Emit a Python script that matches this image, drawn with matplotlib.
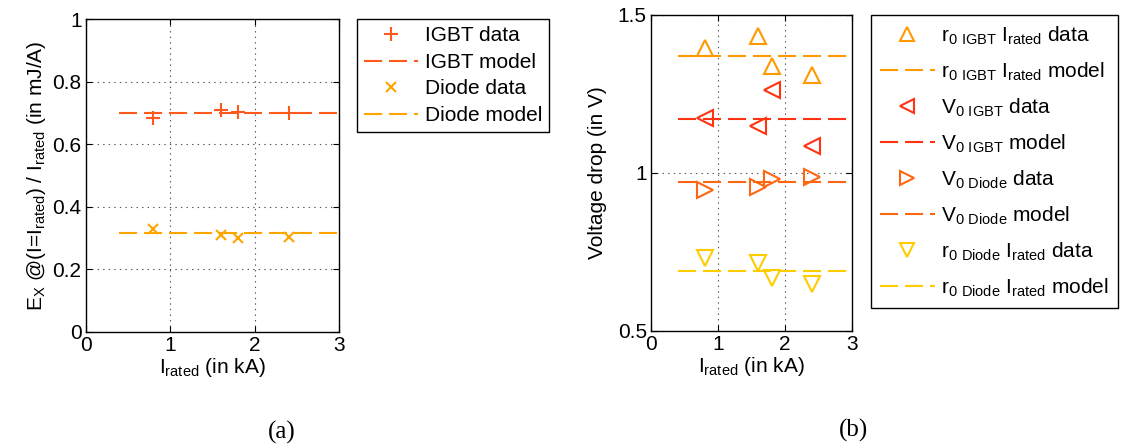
import numpy as np
import matplotlib
matplotlib.use("Agg")
import matplotlib.pyplot as plt

plt.rcParams['font.family'] = ['Liberation Sans', 'DejaVu Sans']
plt.rcParams['mathtext.default'] = 'regular'
plt.rcParams['lines.scale_dashes'] = False

# ratings (kA) of the measured modules
i_rated = [0.8, 1.6, 1.8, 2.4]
model_x = [0.4, 3.0]

# switching energy per rated current (mJ/A)
igbt_data = [0.682, 0.709, 0.704, 0.700]
igbt_model = 0.700
diode_data = [0.329, 0.309, 0.299, 0.304]
diode_model = 0.316

# voltage drop components (V)
r0_igbt_data = [1.397, 1.433, 1.340, 1.310]
r0_igbt_model = 1.370
v0_igbt_data = [1.173, 1.148, 1.262, 1.086]
v0_igbt_model = 1.170
v0_diode_data = [0.946, 0.956, 0.980, 0.988]
v0_diode_model = 0.970
r0_diode_data = [0.729, 0.715, 0.666, 0.647]
r0_diode_model = 0.690

C_IGBT = '#ff5a1e'
C_DIODE = '#ffa500'
C_R0I = '#ff9900'
C_V0I = '#ff3311'
C_V0D = '#ff6611'
C_R0D = '#ffcc00'

DASH = (13, 5)
FS = 15

fig = plt.figure(figsize=(11.23, 4.45), dpi=100)


def style_axes(ax):
    ax.tick_params(direction='in', top=True, right=True, labelsize=FS,
                   length=4, width=0.8, pad=3)
    ax.grid(True, linestyle=(0, (1, 3)), color='#555555', linewidth=0.8)
    for s in ax.spines.values():
        s.set_linewidth(1.0)


# (a) switching energy
ax1 = fig.add_axes([0.0763, 0.2546, 0.2258, 0.7027])
ax1.plot(i_rated, igbt_data, '+', color=C_IGBT, ms=10, mew=1.5, ls='none',
         label='IGBT data')
ax1.plot(model_x, [igbt_model] * 2, color=C_IGBT, lw=1.5, dashes=DASH,
         label='IGBT model')
ax1.plot(i_rated, diode_data, 'x', color=C_DIODE, ms=7, mew=1.5, ls='none',
         label='Diode data')
ax1.plot(model_x, [diode_model] * 2, color=C_DIODE, lw=1.5, dashes=DASH,
         label='Diode model')
ax1.set_xlim(0, 3)
ax1.set_ylim(0, 1)
ax1.set_xticks([0, 1, 2, 3])
ax1.set_yticks([0, 0.2, 0.4, 0.6, 0.8, 1])
ax1.set_yticklabels(['0', '0.2', '0.4', '0.6', '0.8', '1'])
ax1.set_xlabel('I$_{rated}$ (in kA)', fontsize=FS, labelpad=1)
ax1.set_ylabel('E$_{X}$ @(I=I$_{rated}$) / I$_{rated}$ (in mJ/A)',
               fontsize=FS, labelpad=3)
style_axes(ax1)
fig.legend(handles=ax1.get_lines(), loc='upper left',
           bbox_to_anchor=(357 / 1123, 1 - 19 / 445), fontsize=FS,
           frameon=True, fancybox=False, edgecolor='black', framealpha=1,
           handlelength=2.6, handletextpad=0.3, labelspacing=0.36,
           borderpad=0.35, borderaxespad=0)

# (b) voltage drop
ax2 = fig.add_axes([0.5797, 0.2569, 0.1793, 0.7094])
mk = dict(ms=12, mew=1.5, mfc='none', ls='none')
ax2.plot(i_rated, r0_igbt_data, '^', color=C_R0I, **mk,
         label='r$_{0\\ IGBT}$ I$_{rated}$ data')
ax2.plot(model_x, [r0_igbt_model] * 2, color=C_R0I, lw=1.5, dashes=DASH,
         label='r$_{0\\ IGBT}$ I$_{rated}$ model')
ax2.plot(i_rated, v0_igbt_data, '<', color=C_V0I, **mk,
         label='V$_{0\\ IGBT}$ data')
ax2.plot(model_x, [v0_igbt_model] * 2, color=C_V0I, lw=1.5, dashes=DASH,
         label='V$_{0\\ IGBT}$ model')
ax2.plot(i_rated, v0_diode_data, '>', color=C_V0D, **mk,
         label='V$_{0\\ Diode}$ data')
ax2.plot(model_x, [v0_diode_model] * 2, color=C_V0D, lw=1.5, dashes=DASH,
         label='V$_{0\\ Diode}$ model')
ax2.plot(i_rated, r0_diode_data, 'v', color=C_R0D, **mk,
         label='r$_{0\\ Diode}$ I$_{rated}$ data')
ax2.plot(model_x, [r0_diode_model] * 2, color=C_R0D, lw=1.5, dashes=DASH,
         label='r$_{0\\ Diode}$ I$_{rated}$ model')
ax2.set_xlim(0, 3)
ax2.set_ylim(0.5, 1.5)
ax2.set_xticks([0, 1, 2, 3])
ax2.set_yticks([0.5, 1, 1.5])
ax2.set_yticklabels(['0.5', '1', '1.5'])
ax2.set_xlabel('I$_{rated}$ (in kA)', fontsize=FS, labelpad=1)
ax2.set_ylabel('Voltage drop (in V)', fontsize=FS, labelpad=8)
style_axes(ax2)
fig.legend(handles=ax2.get_lines(), loc='upper left',
           bbox_to_anchor=(871 / 1123, 1 - 15 / 445), fontsize=FS,
           frameon=True, fancybox=False, edgecolor='black',
           framealpha=1, handlelength=2.6, handletextpad=0.3,
           labelspacing=0.66, borderpad=0.45, borderaxespad=0,
           markerscale=0.85)

fig.text(282 / 1123, 1 - 432 / 445, '(a)', ha='center', va='center',
         fontsize=18, family='Liberation Serif')
fig.text(853 / 1123, 1 - 430 / 445, '(b)', ha='center', va='center',
         fontsize=18, family='Liberation Serif')

fig.savefig('out.png', dpi=100)
